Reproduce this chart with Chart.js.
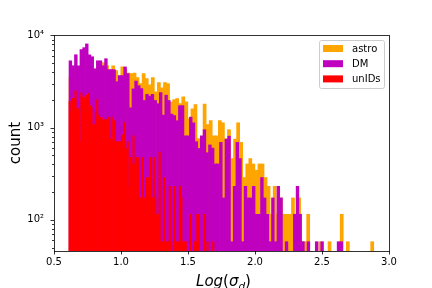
<!DOCTYPE html>
<html>
<head>
<meta charset="utf-8">
<script src="https://cdn.jsdelivr.net/npm/chart.js@4.4.1/dist/chart.umd.min.js"></script>
<style>
html,body{margin:0;padding:0;background:#fff;}
#wrap{width:432px;height:288px;}
</style>
</head>
<body>
<div id="wrap"><canvas id="c" width="432" height="288"></canvas></div>
<script>
// ---- data ----
const seriesNames = ['astro', 'DM', 'unIDs'];
const seriesColors = ['#FFA500', '#BF00BF', '#FF0000'];

// histogram ranges (first bin left edge, last bin right edge) in Log(sigma_d)
const astroRange = [0.612, 2.886];
const dmRange = [0.612, 2.654];
const unidRange = [0.612, 1.694];

const astroCounts = [
  3500, 4000, 4200, 4000, 4300, 4200, 4400, 4300, 4100, 4100,
  4400, 5060, 4700, 4100, 4690, 4150, 3500, 4550, 4300, 3900,
  3850, 3900, 3500, 3000, 3850, 3400, 2920, 3500, 2450, 3080,
  2700, 3080, 3000, 1900, 2010, 2060, 1820, 2160, 1900, 1250,
  1600, 1780, 760, 560, 1800, 1080, 1190, 815, 815, 1190,
  1130, 760, 950, 462, 750, 1130, 692, 288, 404, 462,
  404, 346, 404, 404, 288, 231, 115, 231, 115, 173,
  115, 115, 115, 173, 115, 173, 58, 58, 115, 0,
  0, 0, 58, 0, 0, 58, 0, 0, 0, 115,
  0, 58, 0, 0, 0, 0, 0, 0, 0, 58
];

const dmCounts = [
  5310, 4690, 6170, 4690, 7000, 7360, 8090, 6170, 5870, 4350,
  5310, 5310, 4690, 5590, 4250, 4250, 4250, 3150, 3660, 3660,
  4550, 3850, 1640, 2640, 3200, 2850, 2650, 1970, 2300, 2200,
  2300, 1970, 1820, 2400, 1370, 2250, 1970, 1400, 1350, 1190,
  1730, 1730, 815, 815, 1300, 1130, 705, 595, 815, 950,
  535, 650, 600, 404, 404, 692, 173, 750, 808, 58,
  231, 692, 462, 58, 231, 173, 173, 231, 115, 115,
  288, 173, 115, 58, 173, 58, 231, 173, 0, 58,
  0, 0, 115, 231, 115, 58, 0, 58, 0, 0,
  58, 0, 58, 0, 0, 0, 0, 0, 58, 58
];

const unidCounts = [
  1930, 1450, 2080, 2080, 2500, 1640, 1600, 705, 2380, 2150,
  2150, 1950, 2260, 2350, 1740, 1640, 1080, 1080, 1450, 2010,
  1350, 1290, 1290, 1190, 1220, 1220, 1220, 1300, 760, 1300,
  705, 1190, 705, 705, 705, 705, 835, 610, 1130, 590,
  705, 231, 475, 404, 815, 404, 475, 475, 173, 173,
  475, 173, 173, 288, 288, 173, 475, 173, 475, 173,
  115, 115, 540, 58, 58, 288, 58, 58, 58, 231,
  58, 0, 231, 0, 58, 58, 231, 173, 58, 58,
  58, 0, 0, 115, 0, 0, 58, 58, 115, 115,
  0, 0, 0, 115, 0, 58, 0, 0, 0, 58
];

const xTicks = [0.5, 1.0, 1.5, 2.0, 2.5, 3.0];
const yTicks = [50, 60, 70, 80, 90, 100, 200, 300, 400, 500, 600, 700, 800, 900,
                1000, 2000, 3000, 4000, 5000, 6000, 7000, 8000, 9000, 10000];
const yTickLabels = {100: '10\u00B2', 1000: '10\u00B3', 10000: '10\u2074'};
const yTitle = 'count';

// ---- build bar points (bin centres) ----
function binPoints(range, counts) {
  const w = (range[1] - range[0]) / counts.length;
  return counts.map((c, i) => ({x: range[0] + (i + 0.5) * w, y: c > 0 ? c : null}));
}

const FONT = '"DejaVu Sans", sans-serif';

const decorations = {
  id: 'decorations',
  afterDraw(chart) {
    const {ctx, chartArea: a} = chart;
    const xs = chart.scales.x, ys = chart.scales.y;
    ctx.save();
    ctx.strokeStyle = '#000';
    ctx.lineWidth = 0.8;
    ctx.beginPath();
    xs.ticks.forEach(t => {
      const p = Math.round(xs.getPixelForValue(t.value)) + 0.5;
      ctx.moveTo(p, a.bottom); ctx.lineTo(p, a.bottom + 3.5);
    });
    ys.ticks.forEach(t => {
      const p = Math.round(ys.getPixelForValue(t.value)) + 0.5;
      const major = yTickLabels[t.value];
      ctx.moveTo(a.left, p); ctx.lineTo(a.left - (major ? 3.5 : 2), p);
    });
    ctx.stroke();
    ctx.strokeRect(Math.round(a.left) + 0.5, Math.round(a.top) + 0.5,
                   Math.round(a.right - a.left), Math.round(a.bottom - a.top));

    // y title
    ctx.fillStyle = '#000';
    ctx.font = '15px ' + FONT;
    ctx.save();
    ctx.translate(20, (a.top + a.bottom) / 2);
    ctx.rotate(-Math.PI / 2);
    ctx.textAlign = 'center';
    ctx.textBaseline = 'alphabetic';
    ctx.fillText(yTitle, 0, 0);
    ctx.restore();

    // x title: Log(σ_d)
    const parts = [
      {t: 'Log', f: 'italic 15px ' + FONT, dy: 0},
      {t: '(', f: '15px ' + FONT, dy: 0},
      {t: '\u03C3', f: 'italic 15px ' + FONT, dy: 0},
      {t: 'd', f: 'italic 10.5px ' + FONT, dy: 3.5},
      {t: ')', f: '15px ' + FONT, dy: 0}
    ];
    let total = 0;
    parts.forEach(p => { ctx.font = p.f; p.w = ctx.measureText(p.t).width; total += p.w; });
    let x = (a.left + a.right) / 2 + 2 - total / 2;
    const base = 286;
    ctx.textAlign = 'left';
    ctx.textBaseline = 'alphabetic';
    parts.forEach(p => { ctx.font = p.f; ctx.fillText(p.t, x, base + p.dy); x += p.w; });

    // legend (upper right)
    const lw = 65, lh = 48;
    const lx = a.right - 5 - lw, ly = a.top + 5;
    ctx.beginPath();
    if (ctx.roundRect) ctx.roundRect(lx + 0.5, ly + 0.5, lw, lh, 2);
    else ctx.rect(lx + 0.5, ly + 0.5, lw, lh);
    ctx.fillStyle = 'rgba(255,255,255,0.8)';
    ctx.fill();
    ctx.strokeStyle = '#cccccc';
    ctx.lineWidth = 1;
    ctx.stroke();
    ctx.font = '10px ' + FONT;
    ctx.textBaseline = 'middle';
    chart.data.datasets.forEach((ds, i) => {
      const cy = ly + 8.5 + i * 15.2;
      ctx.fillStyle = ds.backgroundColor;
      ctx.fillRect(lx + 4, cy - 3.5, 20, 7);
      ctx.fillStyle = '#000';
      ctx.fillText(ds.label, lx + 33, cy + 0.5);
    });
    ctx.restore();
  }
};

const common = {barPercentage: 1.0, categoryPercentage: 1.0, grouped: false, borderWidth: 0};

new Chart(document.getElementById('c'), {
  type: 'bar',
  data: {
    datasets: [
      Object.assign({label: seriesNames[0], data: binPoints(astroRange, astroCounts),
        backgroundColor: seriesColors[0], xAxisID: 'x', order: 2}, common),
      Object.assign({label: seriesNames[1], data: binPoints(dmRange, dmCounts),
        backgroundColor: seriesColors[1], xAxisID: 'x2', order: 1}, common),
      Object.assign({label: seriesNames[2], data: binPoints(unidRange, unidCounts),
        backgroundColor: seriesColors[2], xAxisID: 'x3', order: 0}, common)
    ]
  },
  options: {
    responsive: false,
    animation: false,
    devicePixelRatio: 1,
    layout: {padding: {left: 0, right: 43, top: 35, bottom: 0}},
    plugins: {legend: {display: false}, tooltip: {enabled: false}},
    scales: {
      x: {
        type: 'linear', position: 'bottom', min: 0.5, max: 3.0, offset: false,
        grid: {display: false, drawTicks: false, offset: false},
        border: {display: false},
        afterBuildTicks: s => { s.ticks = xTicks.map(v => ({value: v})); },
        afterFit: s => { s.height = 37; },
        ticks: {autoSkip: false, maxRotation: 0, padding: 5, color: '#000',
                font: {family: 'DejaVu Sans', size: 10},
                callback: v => Number(v).toFixed(1)}
      },
      x2: {type: 'linear', position: 'bottom', min: 0.5, max: 3.0, offset: false, display: false,
           grid: {offset: false}},
      x3: {type: 'linear', position: 'bottom', min: 0.5, max: 3.0, offset: false, display: false,
           grid: {offset: false}},
      y: {
        type: 'logarithmic', min: 46, max: 10100,
        grid: {display: false, drawTicks: false},
        border: {display: false},
        afterBuildTicks: s => { s.ticks = yTicks.map(v => ({value: v})); },
        afterFit: s => { s.width = 54; },
        ticks: {autoSkip: false, padding: 10, color: '#000',
                font: {family: 'DejaVu Sans', size: 10},
                callback: v => yTickLabels[v] || ''}
      }
    }
  },
  plugins: [decorations]
});
</script>
</body>
</html>
